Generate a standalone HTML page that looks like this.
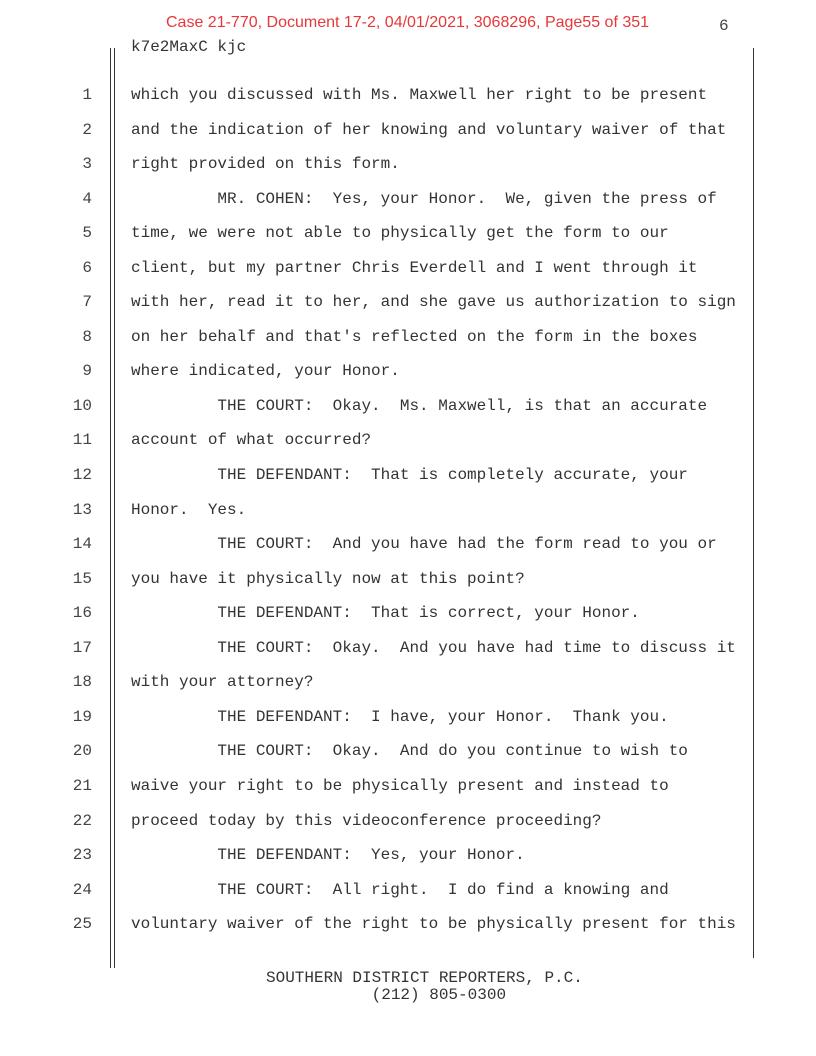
<!DOCTYPE html>
<html><head><meta charset="utf-8"><style>
html,body{margin:0;padding:0;background:#fff}
body{width:816px;height:1056px;position:relative;overflow:hidden;font-family:"Liberation Mono",monospace;color:#333}
.t{position:absolute;font-size:16px;white-space:pre;line-height:18px}
.n{position:absolute;font-size:16px;width:30px;text-align:right;left:62px;line-height:18px;color:#444}
.v{position:absolute;background:#333;width:1px}
</style></head><body>
<div style="position:absolute;left:166px;top:14px;font-family:'Liberation Sans',sans-serif;font-size:16px;color:#e8373a;white-space:pre">Case 21-770, Document 17-2, 04/01/2021, 3068296, Page55 of 351</div>
<div class="t" style="left:719px;top:17px;color:#444">6</div>
<div class="t" style="left:131px;top:38px">k7e2MaxC kjc</div>
<div class="v" style="left:110px;top:48px;height:920px"></div>
<div class="v" style="left:114px;top:48px;height:920px"></div>
<div class="v" style="left:753px;top:48px;height:910px"></div>
<div class="n" style="top:86px">1</div><div class="t" style="left:131px;top:86px">which you discussed with Ms. Maxwell her right to be present</div>
<div class="n" style="top:120.5px">2</div><div class="t" style="left:131px;top:120.5px">and the indication of her knowing and voluntary waiver of that</div>
<div class="n" style="top:155px">3</div><div class="t" style="left:131px;top:155px">right provided on this form.</div>
<div class="n" style="top:189.6px">4</div><div class="t" style="left:131px;top:189.6px">         MR. COHEN:  Yes, your Honor.  We, given the press of</div>
<div class="n" style="top:224.2px">5</div><div class="t" style="left:131px;top:224.2px">time, we were not able to physically get the form to our</div>
<div class="n" style="top:258.7px">6</div><div class="t" style="left:131px;top:258.7px">client, but my partner Chris Everdell and I went through it</div>
<div class="n" style="top:293.2px">7</div><div class="t" style="left:131px;top:293.2px">with her, read it to her, and she gave us authorization to sign</div>
<div class="n" style="top:327.8px">8</div><div class="t" style="left:131px;top:327.8px">on her behalf and that's reflected on the form in the boxes</div>
<div class="n" style="top:362.3px">9</div><div class="t" style="left:131px;top:362.3px">where indicated, your Honor.</div>
<div class="n" style="top:396.9px">10</div><div class="t" style="left:131px;top:396.9px">         THE COURT:  Okay.  Ms. Maxwell, is that an accurate</div>
<div class="n" style="top:431.4px">11</div><div class="t" style="left:131px;top:431.4px">account of what occurred?</div>
<div class="n" style="top:466px">12</div><div class="t" style="left:131px;top:466px">         THE DEFENDANT:  That is completely accurate, your</div>
<div class="n" style="top:500.5px">13</div><div class="t" style="left:131px;top:500.5px">Honor.  Yes.</div>
<div class="n" style="top:535px">14</div><div class="t" style="left:131px;top:535px">         THE COURT:  And you have had the form read to you or</div>
<div class="n" style="top:569.6px">15</div><div class="t" style="left:131px;top:569.6px">you have it physically now at this point?</div>
<div class="n" style="top:604.2px">16</div><div class="t" style="left:131px;top:604.2px">         THE DEFENDANT:  That is correct, your Honor.</div>
<div class="n" style="top:638.7px">17</div><div class="t" style="left:131px;top:638.7px">         THE COURT:  Okay.  And you have had time to discuss it</div>
<div class="n" style="top:673.3px">18</div><div class="t" style="left:131px;top:673.3px">with your attorney?</div>
<div class="n" style="top:707.8px">19</div><div class="t" style="left:131px;top:707.8px">         THE DEFENDANT:  I have, your Honor.  Thank you.</div>
<div class="n" style="top:742.4px">20</div><div class="t" style="left:131px;top:742.4px">         THE COURT:  Okay.  And do you continue to wish to</div>
<div class="n" style="top:776.9px">21</div><div class="t" style="left:131px;top:776.9px">waive your right to be physically present and instead to</div>
<div class="n" style="top:811.5px">22</div><div class="t" style="left:131px;top:811.5px">proceed today by this videoconference proceeding?</div>
<div class="n" style="top:846px">23</div><div class="t" style="left:131px;top:846px">         THE DEFENDANT:  Yes, your Honor.</div>
<div class="n" style="top:880.6px">24</div><div class="t" style="left:131px;top:880.6px">         THE COURT:  All right.  I do find a knowing and</div>
<div class="n" style="top:915px">25</div><div class="t" style="left:131px;top:915px">voluntary waiver of the right to be physically present for this</div>
<div class="t" style="left:266px;top:970px;line-height:17px">SOUTHERN DISTRICT REPORTERS, P.C.
           (212) 805-0300</div>
</body></html>
